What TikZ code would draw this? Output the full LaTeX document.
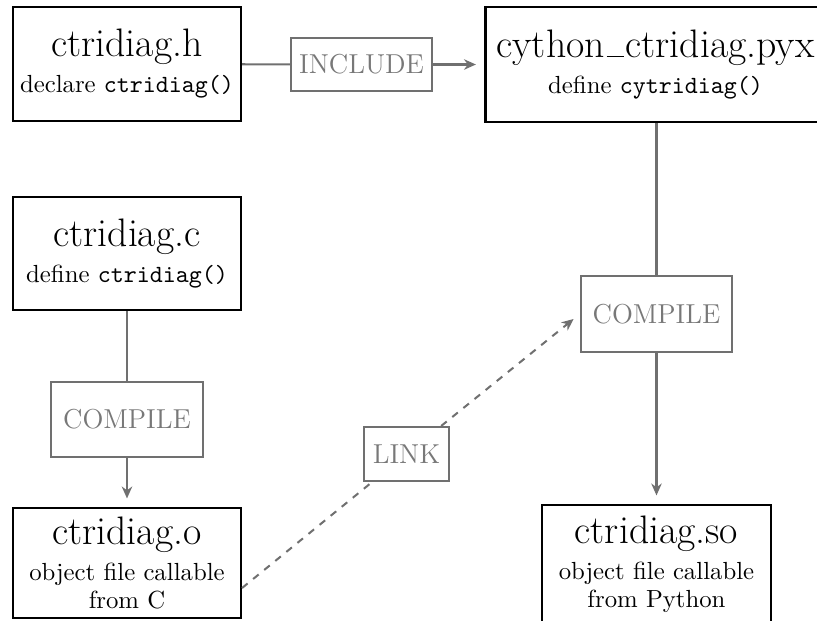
\documentclass[tikz,border=0pt]{standalone}
\usetikzlibrary{arrows.meta}
\definecolor{linegray}{gray}{0.44}
\definecolor{textgray}{gray}{0.47}
\newcommand\titlef{\fontsize{16.7}{18}\selectfont}
\newcommand\subf{\fontsize{10.4}{11.8}\selectfont}
\newcommand\grayf{\fontsize{11.5}{13}\selectfont}
\newcommand\lowbar{\kern0.04em\rule{0.44em}{0.5pt}\kern0.04em}
\tikzset{
  filebox/.style={draw=black, line width=0.85pt, align=center, inner sep=0pt,
    font=\subf, minimum width=95.8pt},
  actbox/.style={draw=linegray, line width=0.85pt, text=textgray, font=\grayf,
    inner sep=0pt, fill=white},
  conn/.style={draw=linegray, line width=0.85pt},
  arr/.style={conn, -{Stealth[length=5pt,width=4.4pt,inset=1.6pt]}, shorten >=3.6pt},
  darr/.style={conn, dashed, -{Stealth[length=5pt,width=4.4pt,inset=1.6pt]}},
}
\begin{document}
\begin{tikzpicture}[x=0.42pt,y=-0.42pt]
\useasboundingbox (0,0) rectangle (817,620);
\clip (0,0) rectangle (817,620);
% file boxes
\node[filebox, minimum height=47.9pt] (h) at (127,64)
  {{\titlef ctridiag.h}\\[3.3pt] declare \texttt{ctridiag()}};
\node[filebox, minimum width=142.8pt, minimum height=48.3pt] (pyx) at (655.5,64.5)
  {{\titlef cython\lowbar ctridiag.pyx}\\[3.3pt] define \texttt{cytridiag()}};
\node[filebox, minimum height=47.5pt] (c) at (127,253.5)
  {{\titlef ctridiag.c}\\[3.3pt] define \texttt{ctridiag()}};
\node[filebox, minimum height=46.2pt] (o) at (127,563)
  {{\titlef ctridiag.o}\\[3.3pt] object file callable\\ from C};
\node[filebox, minimum height=50pt] (so) at (656.5,564.5)
  {{\titlef ctridiag.so}\\[3.3pt] object file callable\\ from Python};
% action boxes
\node[actbox, minimum width=59.2pt, minimum height=22.3pt] (inc) at (361.5,64.5) {INCLUDE};
\node[actbox, minimum width=63.8pt, minimum height=31.5pt] (comp1) at (127,419.5) {COMPILE};
\node[actbox, minimum width=63.8pt, minimum height=31.8pt] (comp2) at (656.5,314) {COMPILE};
\node[actbox, minimum width=35.7pt, minimum height=22.7pt] (link) at (406.5,454) {LINK};
% connectors
\draw[conn] (h) -- (inc);
\draw[arr] (inc) -- (pyx);
\draw[conn] (comp2.north |- pyx.south) -- (comp2);
\draw[arr] (comp2) -- (so);
\draw[conn] (c) -- (comp1);
\draw[arr] (comp1) -- (o);
\draw[conn, dashed] ([yshift=-10.5pt]o.east) -- (link);
\draw[darr] (link) -- ([xshift=-2.5pt,yshift=-2.1pt]comp2.west);
\end{tikzpicture}
\end{document}
